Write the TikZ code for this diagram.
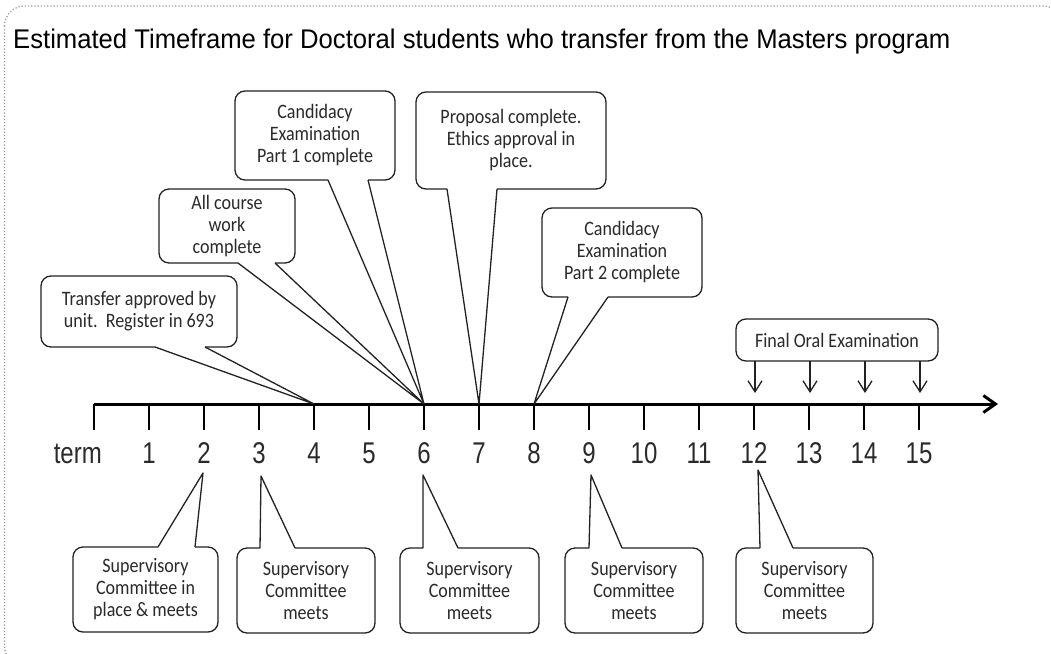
\documentclass[tikz,border=0pt]{standalone}
\usepackage{fontspec}
\usepackage{graphicx}
\usetikzlibrary{arrows.meta}
\setmainfont{Carlito}
\newfontfamily\boxfont[FakeStretch=0.88]{Carlito}
\newfontfamily\arialfont{Liberation Sans}
\newfontfamily\narrowarial[FakeStretch=0.8]{Liberation Sans}
\definecolor{ink}{HTML}{222222}
\definecolor{txt}{HTML}{2A2A2A}
\tikzset{
  boxline/.style={draw=ink, line width=1.3pt, line join=round},
  boxtext/.style={align=center, text=txt, font=\boxfont\fontsize{20.5}{22}\selectfont, inner sep=0pt},
  axisline/.style={draw=black, line width=3pt},
  tickline/.style={draw=black, line width=2.8pt},
  numlabel/.style={anchor=base, text=txt, font=\narrowarial\fontsize{30}{30}\selectfont, inner sep=0pt},
  oralarrow/.style={draw=ink, line width=1.3pt, -{Straight Barb[length=11pt,width=14pt,line width=1.3pt]}},
  frameline/.style={draw=gray!80, line width=1.2pt, dotted, rounded corners=20pt}
}
% top callout: name, xL, yT, xR, yB, base1 x, base2 x, tip, text
\newcommand\topcallout[9]{%
  \draw[boxline, rounded corners=10pt] (#6,#5) -- (#2,#5) -- (#2,#3) -- (#4,#3) -- (#4,#5) -- (#7,#5);
  \draw[boxline] (#7,#5) -- (#8) -- (#6,#5);
  \node[boxtext] (#1) at ({(#2+#4)/2},{(#3+#5)/2}) {#9};
}
% bottom callout: name, xL, yT, xR, yB, base1 x, base2 x, tip, text
\newcommand\botcallout[9]{%
  \draw[boxline, rounded corners=10pt] (#6,#3) -- (#2,#3) -- (#2,#5) -- (#4,#5) -- (#4,#3) -- (#7,#3);
  \draw[boxline] (#7,#3) -- (#8) -- (#6,#3);
  \node[boxtext] (#1) at ({(#2+#4)/2},{(#3+#5)/2}) {#9};
}
\begin{document}
\begin{tikzpicture}[x=1pt, y=-1pt]
\useasboundingbox (0,0) rectangle (1051,653);
\clip (0,0) rectangle (1051,653);
\fill[white] (0,0) rectangle (1051,653);
% frame
\draw[frameline] (4.5,6) rectangle (1063,666);
% title
\node[anchor=base west, inner sep=0pt, text=black] (title) at (13,48)
  {\resizebox{937pt}{\height}{\arialfont\fontsize{27}{30}\selectfont Estimated Timeframe for Doctoral students who transfer from the Masters program}};
% ticks coordinates
\foreach \k in {0,...,15} {
  \coordinate (t\k) at ({94+55*\k},404);
  \coordinate (b\k) at ({94+55*\k},430);
}
\coordinate (axisend) at (998,404);
\draw[axisline, -{Straight Barb[length=12pt,width=17pt,line width=3pt]}] (t0) -- (axisend);
\foreach \k in {0,...,15} {
  \draw[tickline] (t\k) -- (b\k);
}
% labels
\node[numlabel, anchor=base east] (lterm) at (102,463) {term};
\foreach \k in {1,...,15} {
  \node[numlabel] (l\k) at ({94+55*\k},463) {\k};
}
% top callouts
\topcallout{ca}{41}{276}{237}{347}{155}{205}{t4}{Transfer approved by\\unit.\ \ Register in 693}
\topcallout{cb}{159}{189}{295}{263}{238}{275}{t6}{All course\\work\\complete}
\topcallout{cc}{235}{91}{395}{180}{328}{368}{t6}{Candidacy\\Examination\\Part 1 complete}
\topcallout{cd}{416}{92}{606}{189}{447}{497}{t7}{Proposal complete.\\Ethics approval in\\place.}
\topcallout{ce}{542}{208}{702}{297}{568}{608}{t8}{Candidacy\\Examination\\Part 2 complete}
% final oral examination
\draw[boxline, rounded corners=10pt] (736,319) rectangle (938,361);
\node[boxtext] (oral) at (837,340) {Final Oral Examination};
\foreach \k in {12,...,15} {
  \coordinate (oa\k) at ({94+55*\k+1},361);
  \coordinate (ob\k) at ({94+55*\k+1},393);
  \draw[oralarrow] (oa\k) -- (ob\k);
}
% bottom tips
\coordinate (s2) at (203,473);
\coordinate (s3) at (261,476);
\coordinate (s6) at (423,475);
\coordinate (s9) at (591,475);
\coordinate (s12) at (758,470);
\botcallout{cg}{73}{547}{218}{632}{158}{195}{s2}{Supervisory\\Committee in\\place \& meets}
\botcallout{ch}{237}{548}{375}{633}{260}{295}{s3}{Supervisory\\Committee\\meets}
\botcallout{ci}{400}{548}{539}{633}{423}{458}{s6}{Supervisory\\Committee\\meets}
\botcallout{cj}{565}{548}{703}{633}{589}{622}{s9}{Supervisory\\Committee\\meets}
\botcallout{ck}{736}{548}{873}{633}{760}{793}{s12}{Supervisory\\Committee\\meets}
\end{tikzpicture}
\end{document}
